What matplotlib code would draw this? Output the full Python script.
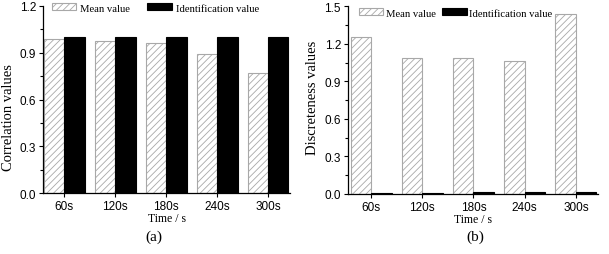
import matplotlib
matplotlib.use("Agg")
import matplotlib.pyplot as plt
import numpy as np
from matplotlib.ticker import AutoMinorLocator

categories = ["60s", "120s", "180s", "240s", "300s"]
corr_mean = [0.99, 0.975, 0.96, 0.89, 0.77]
corr_ident = [1.0, 1.0, 1.0, 1.0, 1.0]
disc_mean = [1.255, 1.09, 1.09, 1.065, 1.435]
disc_ident = [0.005, 0.01, 0.018, 0.018, 0.018]

plt.rcParams['hatch.linewidth'] = 0.6

fig = plt.figure(figsize=(6.09, 2.55), dpi=100)
ax1 = fig.add_axes([0.0706, 0.238, 0.4056, 0.7357])
ax2 = fig.add_axes([0.5714, 0.2353, 0.4105, 0.736])

serif = 'Liberation Serif'
sans = 'Liberation Sans'
w = 0.4

def draw(ax, mean, ident, ylim, ylabel, xlim, leg_xy, colsp, tpad, ylab_xy):
    x = np.arange(len(categories))
    ax.bar(x - w/2, mean, width=w, color='white', edgecolor='#a8a8a8',
           hatch='/////', linewidth=0.8, label='Mean value')
    ax.bar(x + w/2, ident, width=w, color='black', edgecolor='black',
           linewidth=0.8, label='Identification value')
    ax.set_xlim(*xlim)
    ax.set_ylim(*ylim)
    ticks = np.arange(0, ylim[1] + 0.001, 0.3)
    ax.set_yticks(ticks)
    ax.set_yticklabels([f"{v:.1f}" for v in ticks], fontfamily=sans, fontsize=8.5)
    ax.yaxis.set_minor_locator(AutoMinorLocator(2))
    ax.set_xticks(x)
    ax.set_xticklabels(categories, fontfamily=sans, fontsize=8.5)
    ax.tick_params(axis='both', which='major', direction='out', length=3, width=0.8, pad=2)
    ax.tick_params(axis='y', which='minor', direction='out', length=2, width=0.8)
    for s in ['top', 'right']:
        ax.spines[s].set_visible(False)
    for s in ['left', 'bottom']:
        ax.spines[s].set_linewidth(0.9)
    ax.set_ylabel(ylabel, fontfamily=serif, fontsize=10.5)
    ax.yaxis.set_label_coords(*ylab_xy)
    ax.set_xlabel('Time / s', fontfamily=serif, fontsize=8.5, labelpad=0)
    ax.legend(loc='center', bbox_to_anchor=leg_xy, ncol=2, frameon=False,
              prop={'family': serif, 'size': 7.7}, handlelength=2.3, handleheight=0.6,
              columnspacing=colsp, handletextpad=tpad, borderaxespad=0, borderpad=0)

draw(ax1, corr_mean, corr_ident, (0, 1.2), 'Correlation values', (-0.42, 4.43),
     (0.455, 0.988), 1.6, 0.37, (-0.115, 0.41))
draw(ax2, disc_mean, disc_ident, (0, 1.5), 'Discreteness values', (-0.45, 4.43),
     (0.43, 0.964), 0.65, 0.2, (-0.115, 0.52))

fig.text(0.252, 0.07, '(a)', fontfamily=serif, fontsize=11, ha='center', va='center')
fig.text(0.781, 0.07, '(b)', fontfamily=serif, fontsize=11, ha='center', va='center')

fig.savefig('out.png', dpi=100)
